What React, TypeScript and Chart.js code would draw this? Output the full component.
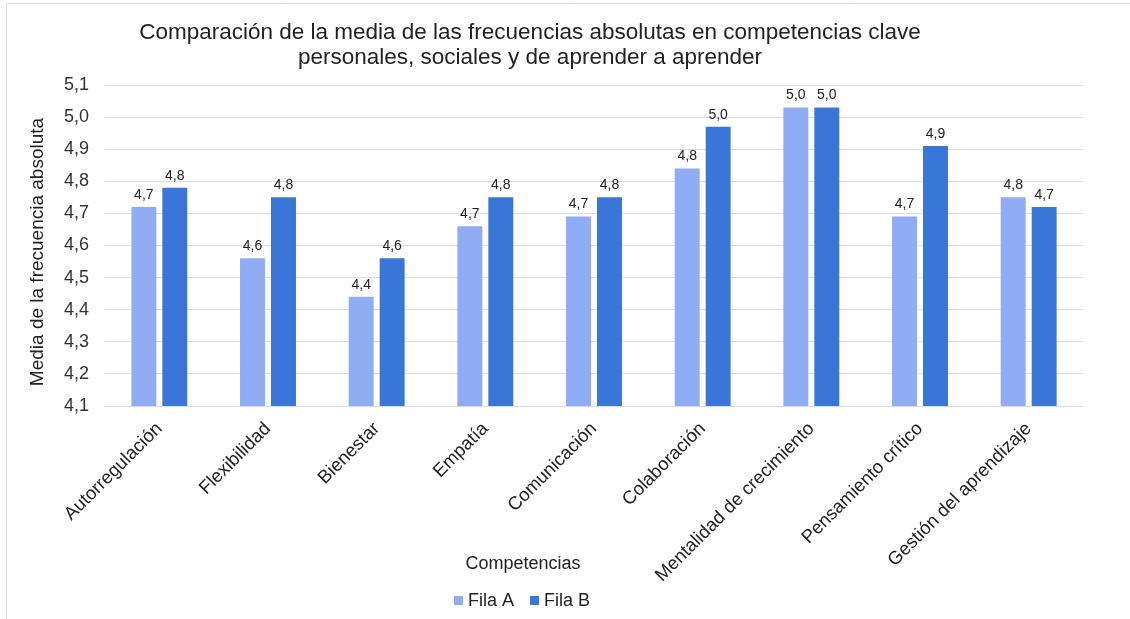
import React, { useEffect, useRef } from "react";
import { Chart, registerables } from "chart.js";

Chart.register(...registerables);

const titleLines = [
  "Comparación de la media de las frecuencias absolutas en competencias clave",
  "personales, sociales y de aprender a aprender",
];
const categories = [
  "Autorregulación",
  "Flexibilidad",
  "Bienestar",
  "Empatía",
  "Comunicación",
  "Colaboración",
  "Mentalidad de crecimiento",
  "Pensamiento crítico",
  "Gestión del aprendizaje",
];
const filaA = [4.72, 4.56, 4.44, 4.66, 4.69, 4.84, 5.03, 4.69, 4.75];
const filaB = [4.78, 4.75, 4.56, 4.75, 4.75, 4.97, 5.03, 4.91, 4.72];
const seriesNames = ["Fila A", "Fila B"];
const seriesColors = ["#8FACF5", "#3A76D8"];
const yTitle = "Media de la frecuencia absoluta";
const xTitle = "Competencias";
const yMin = 4.1;
const yMax = 5.1;
const yStep = 0.1;

const FONT = "'Liberation Sans', Arial, sans-serif";
const fmt = (v: number) => v.toFixed(1).replace(".", ",");

export default function App() {
  const ref = useRef<HTMLCanvasElement | null>(null);
  useEffect(() => {
    if (!ref.current) return;
    const overlay = {
      id: "overlay",
      afterDatasetsDraw(chart: any) {
        const ctx = chart.ctx;
        ctx.save();
        ctx.font = `14px ${FONT}`;
        ctx.fillStyle = "#222";
        ctx.textAlign = "center";
        ctx.textBaseline = "bottom";
        chart.data.datasets.forEach((ds: any, i: number) => {
          const meta = chart.getDatasetMeta(i);
          meta.data.forEach((el: any, j: number) => {
            ctx.fillText(fmt(ds.data[j]), el.x, el.y - 5);
          });
        });
        ctx.restore();
      },
      afterDraw(chart: any) {
        const ctx = chart.ctx;
        ctx.save();
        // frame
        ctx.strokeStyle = "#dadce0";
        ctx.lineWidth = 1;
        ctx.beginPath();
        ctx.moveTo(6.5, 619);
        ctx.lineTo(6.5, 3.5);
        ctx.lineTo(1130, 3.5);
        ctx.stroke();
        // title
        ctx.fillStyle = "#222";
        ctx.font = `22.5px ${FONT}`;
        ctx.textAlign = "center";
        ctx.textBaseline = "middle";
        ctx.fillText(titleLines[0], 530, 33);
        ctx.fillText(titleLines[1], 530, 58);
        // x title
        ctx.font = `18px ${FONT}`;
        ctx.fillStyle = "#222";
        ctx.fillText(xTitle, 523, 564);
        // y title
        ctx.save();
        ctx.font = `19px ${FONT}`;
        ctx.translate(38, 252);
        ctx.rotate(-Math.PI / 2);
        ctx.fillText(yTitle, 0, 0);
        ctx.restore();
        // legend
        ctx.font = `18px ${FONT}`;
        ctx.textAlign = "left";
        const legendX = [454, 530];
        seriesNames.forEach((n, i) => {
          ctx.fillStyle = seriesColors[i];
          ctx.fillRect(legendX[i], 596, 9, 9);
          ctx.fillStyle = "#222";
          ctx.fillText(n, legendX[i] + 14, 601);
        });
        ctx.restore();
      },
    };
    const chart = new Chart(ref.current, {
      type: "bar",
      data: {
        labels: categories,
        datasets: [
          { label: seriesNames[0], data: filaA, backgroundColor: seriesColors[0] },
          { label: seriesNames[1], data: filaB, backgroundColor: seriesColors[1] },
        ],
      },
      options: {
        responsive: false,
        animation: false,
        layout: { padding: { top: 85, right: 47, left: 0, bottom: 0 } },
        datasets: {
          bar: { categoryPercentage: 0.57, barPercentage: 0.806 },
        },
        plugins: {
          legend: { display: false },
          title: { display: false },
          tooltip: { enabled: false },
        },
        scales: {
          x: {
            grid: { display: false, drawTicks: false },
            border: { display: false },
            ticks: {
              minRotation: 45,
              maxRotation: 45,
              padding: 12,
              autoSkip: false,
              color: "#222",
              font: { family: FONT, size: 18.5 },
            },
            afterFit: (s: any) => {
              s.height = 213;
            },
          },
          y: {
            min: yMin,
            max: yMax,
            grid: { color: "#dddddd", lineWidth: 1, drawTicks: false },
            border: { display: false },
            ticks: {
              stepSize: yStep,
              padding: 16,
              color: "#333",
              font: { family: FONT, size: 18 },
              callback: (v: any) => fmt(Number(v)),
            },
            afterFit: (s: any) => {
              s.width = 105;
            },
          },
        },
      },
      plugins: [overlay],
    });
    return () => chart.destroy();
  }, []);
  return (
    <div style={{ position: "absolute", left: 0, top: 0, width: 1130, height: 619, background: "#fff" }}>
      <canvas ref={ref} width={1130} height={619} style={{ display: "block" }} />
    </div>
  );
}
